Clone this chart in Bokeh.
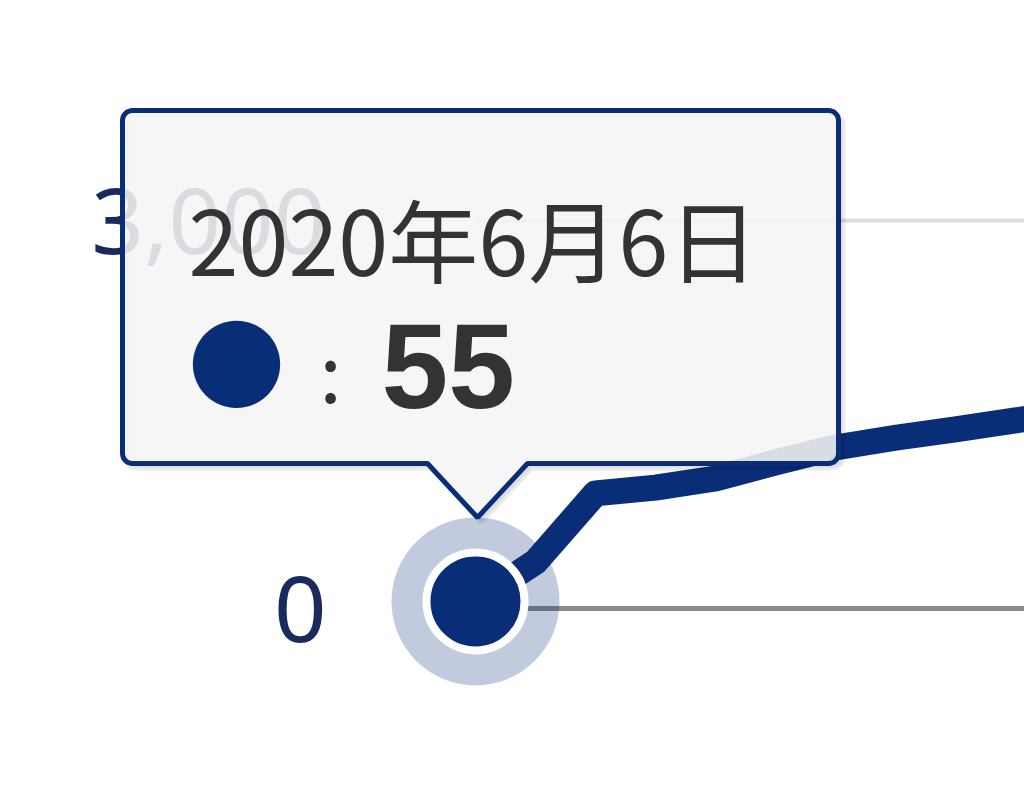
import numpy as np
from bokeh.plotting import figure
from bokeh.models import (Range1d, FixedTicker, NumeralTickFormatter,
                          Label, PolyAnnotation)
from bokeh.embed import file_html
from bokeh.resources import INLINE

# ---------------- data ----------------
dates = ["2020-06-06", "2020-06-07", "2020-06-08", "2020-06-09", "2020-06-10",
         "2020-06-11", "2020-06-12", "2020-06-13", "2020-06-14", "2020-06-15",
         "2020-06-16"]
values = [55, 360, 890, 935, 1005, 1130, 1245, 1320, 1385, 1455, 1515]
y_ticks = [0, 3000, 6000]
tooltip_date = "2020年6月6日"
tooltip_symbol = "●"
tooltip_sep = ":"
tooltip_value = "55"

NAVY = "#0a2d78"
TEXT = "#333333"

# ---------------- layout ----------------
FIG_W, FIG_H = 1024, 794
FRAME_LEFT = 116          # px, frame starts here
FIRST_PX = 475.0 - FRAME_LEFT   # px from frame left to first date
DAY_PX = 60.0             # px per day
ZERO_PX = 608.0           # px from top where value 0 sits
PX_PER_UNIT = 388.0 / 3000.0
LABEL_RIGHT = 326         # px where the y tick labels end

x_ms = np.array(dates, dtype="datetime64[ms]").astype("int64").astype(float)
ms_per_px = 86400000.0 / DAY_PX
x_start = x_ms[0] - FIRST_PX * ms_per_px
x_end = x_start + (FIG_W - FRAME_LEFT) * ms_per_px
y_end = ZERO_PX / PX_PER_UNIT
y_start = -(FIG_H - ZERO_PX) / PX_PER_UNIT

def sx(px):
    """figure pixel x -> data x"""
    return x_start + (px - FRAME_LEFT) * ms_per_px

def sy(py):
    """figure pixel y (from top) -> data y"""
    return (ZERO_PX - py) / PX_PER_UNIT

p = figure(width=FIG_W, height=FIG_H, x_axis_type="datetime",
           x_axis_location=None,
           x_range=Range1d(x_start, x_end), y_range=Range1d(y_start, y_end),
           output_backend="svg", toolbar_location=None,
           min_border_left=FRAME_LEFT, min_border_right=0,
           min_border_top=0, min_border_bottom=0,
           background_fill_color="white", border_fill_color="white")
p.outline_line_color = None

ax = p.yaxis[0]
ax.ticker = FixedTicker(ticks=y_ticks)
ax.formatter = NumeralTickFormatter(format="0,0")
ax.axis_line_color = None
ax.major_tick_line_color = None
ax.minor_tick_line_color = None
ax.major_tick_out = 0
ax.major_tick_in = 0
ax.major_label_text_font = "Noto Sans"
ax.major_label_text_font_size = "92px"
ax.major_label_text_color = "#1a2a5c"
ax.major_label_standoff = FRAME_LEFT - LABEL_RIGHT   # labels reach into the frame
p.ygrid.visible = False
p.xgrid.visible = False

# horizontal grid lines starting at the first date
p.segment(x0=[x_ms[0]], x1=[x_end], y0=[y_ticks[1]], y1=[y_ticks[1]],
          line_color="#dedede", line_width=4, level="underlay")
p.segment(x0=[x_ms[0]], x1=[x_end], y0=[y_ticks[0]], y1=[y_ticks[0]],
          line_color="#8a8a8a", line_width=5, level="underlay")

# series line
p.line(x_ms, values, line_color=NAVY, line_width=26,
       line_join="round", line_cap="round")

# hovered point: halo + marker
p.scatter([x_ms[0]], [values[0]], size=168, fill_color=NAVY, fill_alpha=0.25,
          line_color=None)
p.scatter([x_ms[0]], [values[0]], size=98, fill_color=NAVY,
          line_color="white", line_width=8)

# ---------------- tooltip ----------------
def tooltip_path(l, t, r, b, rad, base_l, base_r, tip_x, tip_y, n=8):
    pts = []
    def arc(cx, cy, a0, a1):
        for a in np.linspace(np.radians(a0), np.radians(a1), n):
            pts.append((cx + rad * np.cos(a), cy + rad * np.sin(a)))
    arc(l + rad, t + rad, 180, 270)
    arc(r - rad, t + rad, 270, 360)
    arc(r - rad, b - rad, 0, 90)
    pts.append((base_r, b))
    pts.append((tip_x, tip_y))
    pts.append((base_l, b))
    arc(l + rad, b - rad, 90, 180)
    xs = [sx(x) for x, _ in pts]
    ys = [sy(y) for _, y in pts]
    return xs, ys

TL, TT, TR, TB = 122, 110, 838, 463
xs, ys = tooltip_path(TL, TT, TR, TB, 10, 427, 527, 477, 517)
xs_sh, ys_sh = tooltip_path(TL + 4, TT + 4, TR + 4, TB + 4, 10, 431, 531, 481, 521)

p.add_layout(PolyAnnotation(xs=xs_sh, ys=ys_sh, fill_color="black", fill_alpha=0.06,
                            line_color="black", line_alpha=0.08, line_width=6,
                            level="overlay"))
p.add_layout(PolyAnnotation(xs=xs, ys=ys, fill_color="#f7f7f7", fill_alpha=0.87,
                            line_color=NAVY, line_alpha=1.0, line_width=5,
                            level="overlay"))

p.add_layout(Label(x=sx(188), y=sy(236), text=tooltip_date,
                   text_font="Noto Sans CJK JP", text_font_size="90px",
                   text_color=TEXT, text_baseline="alphabetic", text_align="left",
                   level="overlay"))
p.add_layout(Label(x=sx(236), y=sy(358), text=tooltip_symbol,
                   text_font="Noto Sans CJK JP", text_font_size="97px",
                   text_color=NAVY, text_baseline="middle", text_align="center",
                   level="overlay"))
p.add_layout(Label(x=sx(330), y=sy(367), text=tooltip_sep,
                   text_font="Noto Sans CJK JP", text_font_size="80px",
                   text_color=TEXT, text_baseline="alphabetic", text_align="center",
                   level="overlay"))
p.add_layout(Label(x=sx(381), y=sy(365), text=tooltip_value,
                   text_font="Liberation Sans", text_font_style="bold",
                   text_font_size="120px",
                   text_color=TEXT, text_baseline="alphabetic", text_align="left",
                   level="overlay"))

open("out.html", "w").write(file_html(p, INLINE))
